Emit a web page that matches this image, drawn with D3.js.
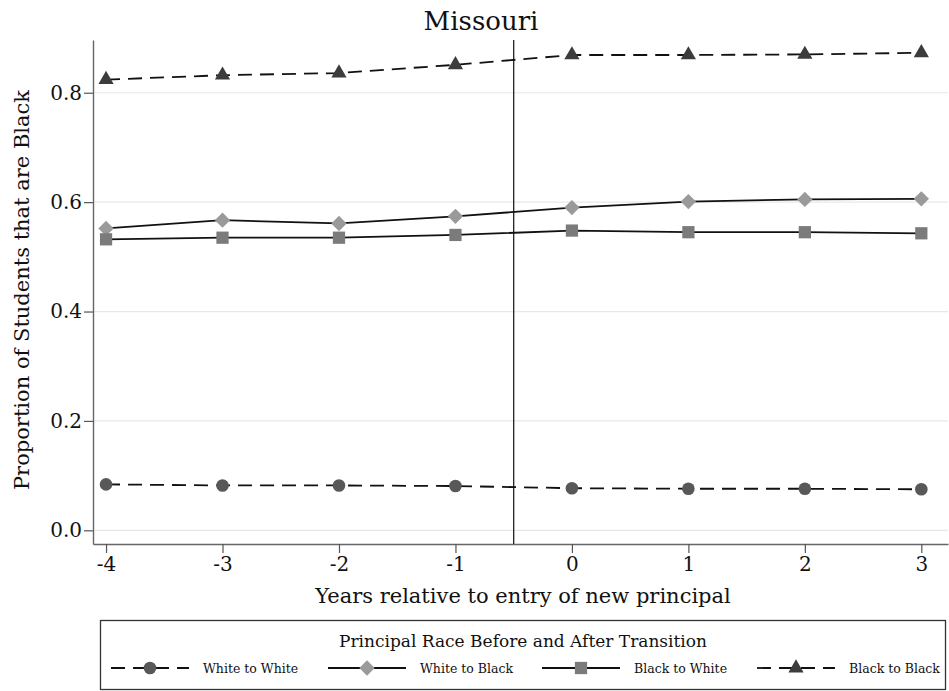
<!DOCTYPE html>
<html>
<head>
<meta charset="utf-8">
<script src="https://cdn.jsdelivr.net/npm/d3@7"></script>
<style>
  body { margin: 0; background: #fff; }
  text { font-family: "DejaVu Serif", serif; fill: #111; }
</style>
</head>
<body>
<script>
var years = [-4, -3, -2, -1, 0, 1, 2, 3],
	yTicks = [0, 0.2, 0.4, 0.6, 0.8];

var whiteToWhite = [0.084, 0.082, 0.082, 0.081, 0.077, 0.076, 0.076, 0.075],
	whiteToBlack = [0.552, 0.567, 0.561, 0.574, 0.590, 0.601, 0.605, 0.606],
	blackToWhite = [0.532, 0.535, 0.535, 0.540, 0.548, 0.545, 0.545, 0.543],
	blackToBlack = [0.824, 0.832, 0.836, 0.851, 0.869, 0.869, 0.870, 0.873];

var seriesNames = ['White to White', 'White to Black', 'Black to White', 'Black to Black'];

var width = 949, height = 691;
var plot = {left: 93, right: 948, top: 40, bottom: 544};

// series styles
var series = [
	{name: seriesNames[0], values: whiteToWhite, dash: '14,8', symbol: d3.symbolCircle, size: 125, fill: '#585858', rotate: 0},
	{name: seriesNames[1], values: whiteToBlack, dash: null, symbol: d3.symbolSquare, size: 118, fill: '#9a9a9a', rotate: 45},
	{name: seriesNames[2], values: blackToWhite, dash: null, symbol: d3.symbolSquare, size: 150, fill: '#7b7b7b', rotate: 0},
	{name: seriesNames[3], values: blackToBlack, dash: '14,8', symbol: d3.symbolTriangle, size: 100, fill: '#3c3c3c', rotate: 0}
];

var x = d3.scaleLinear()
	.domain([-4.112, 3.229])
	.range([plot.left, plot.right]);

var y = d3.scaleLinear()
	.domain([-0.025, 0.8964])
	.range([plot.bottom, plot.top]);

var svg = d3.select('body')
	.append('svg')
	.attr('width', width)
	.attr('height', height);

// grid lines
svg.append('g')
	.selectAll('line')
	.data(yTicks)
	.enter().append('line')
		.attr('x1', plot.left)
		.attr('x2', plot.right)
		.attr('y1', function(d) { return y(d); })
		.attr('y2', function(d) { return y(d); })
		.attr('stroke', '#e8e8e8')
		.attr('stroke-width', 1.2);

// axes
var yAxis = d3.axisLeft(y)
	.tickValues(yTicks)
	.tickFormat(d3.format('.1f'))
	.tickSize(9)
	.tickPadding(2)
	.tickSizeOuter(0);

var gy = svg.append('g')
	.attr('transform', 'translate(' + plot.left + ',0)')
	.call(yAxis);

var xAxis = d3.axisBottom(x)
	.tickValues(years)
	.tickFormat(d3.format('d'))
	.tickSize(9)
	.tickPadding(4)
	.tickSizeOuter(0);

var gx = svg.append('g')
	.attr('transform', 'translate(0,' + plot.bottom + ')')
	.call(xAxis);

[gx, gy].forEach(function(g) {
	g.select('.domain').attr('stroke', '#666').attr('stroke-width', 1.4);
	g.selectAll('.tick line').attr('stroke', '#555').attr('stroke-width', 1.2);
	g.selectAll('.tick text')
		.style('font-family', '"DejaVu Serif", serif')
		.style('font-size', '20px')
		.attr('fill', '#111');
});
gx.selectAll('.tick text').text(function(d) { return d < 0 ? '-' + Math.abs(d) : d; });

// vertical line at transition
svg.append('line')
	.attr('x1', x(-0.5)).attr('x2', x(-0.5))
	.attr('y1', plot.top).attr('y2', plot.bottom)
	.attr('stroke', '#222')
	.attr('stroke-width', 1.3);

// lines and markers
var line = d3.line()
	.x(function(d, i) { return x(years[i]); })
	.y(function(d) { return y(d); });

series.forEach(function(s) {
	svg.append('path')
		.datum(s.values)
		.attr('d', line)
		.attr('fill', 'none')
		.attr('stroke', '#111')
		.attr('stroke-width', 1.8)
		.attr('stroke-dasharray', s.dash);

	svg.append('g')
		.selectAll('path')
		.data(s.values)
		.enter().append('path')
			.attr('d', d3.symbol().type(s.symbol).size(s.size))
			.attr('transform', function(d, i) {
				return 'translate(' + x(years[i]) + ',' + y(d) + ') rotate(' + s.rotate + ')';
			})
			.attr('fill', s.fill);
});

// titles
svg.append('text')
	.attr('x', 481)
	.attr('y', 30)
	.attr('text-anchor', 'middle')
	.style('font-size', '26px')
	.text('Missouri');

svg.append('text')
	.attr('x', 523)
	.attr('y', 603)
	.attr('text-anchor', 'middle')
	.style('font-size', '21px')
	.text('Years relative to entry of new principal');

svg.append('text')
	.attr('transform', 'translate(29,290) rotate(-90)')
	.attr('text-anchor', 'middle')
	.style('font-size', '21px')
	.text('Proportion of Students that are Black');

// legend
var legend = svg.append('g');

legend.append('rect')
	.attr('x', 100.5).attr('y', 620.5)
	.attr('width', 845).attr('height', 69)
	.attr('fill', '#fff')
	.attr('stroke', '#333')
	.attr('stroke-width', 1.3);

legend.append('text')
	.attr('x', 523)
	.attr('y', 647)
	.attr('text-anchor', 'middle')
	.style('font-size', '17px')
	.text('Principal Race Before and After Transition');

var keyStart = [111, 328, 542, 757];

series.forEach(function(s, i) {
	var k = legend.append('g')
		.attr('transform', 'translate(' + keyStart[i] + ',668)');
	k.append('line')
		.attr('x1', 0).attr('x2', 78)
		.attr('stroke', '#111')
		.attr('stroke-width', 1.8)
		.attr('stroke-dasharray', s.dash);
	k.append('path')
		.attr('d', d3.symbol().type(s.symbol).size(s.size))
		.attr('transform', 'translate(39,0) rotate(' + s.rotate + ')')
		.attr('fill', s.fill);
	k.append('text')
		.attr('x', 92)
		.attr('y', 5)
		.style('font-size', '12.5px')
		.text(s.name);
});
</script>
</body>
</html>
